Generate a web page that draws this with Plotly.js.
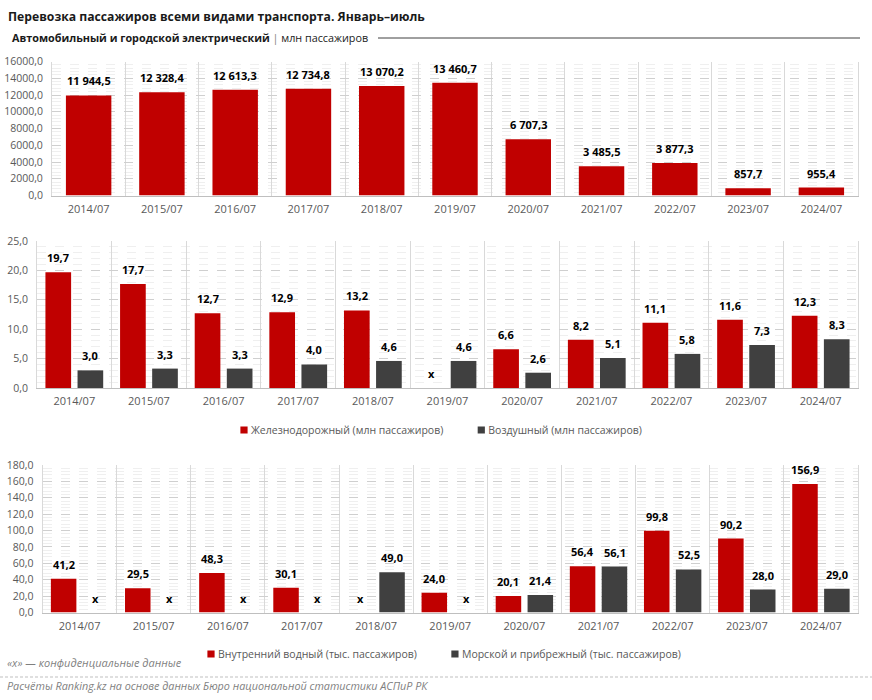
<!DOCTYPE html>
<html>
<head>
<meta charset="utf-8">
<script src="https://cdn.plot.ly/plotly-3.0.1.min.js"></script>
<style>
  html, body { margin: 0; padding: 0; background: #fff; }
  #chart { width: 872px; height: 700px; }
  .js-plotly-plot .plot .bars path { filter: drop-shadow(3px 1px 2px rgba(0,0,0,0.3)); }
  g.legendpoints path { transform: translate(33px, 0px) scale(0.6) !important; }
</style>
</head>
<body>
<div id="chart"></div>
<script>
const categories = ['2014/07','2015/07','2016/07','2017/07','2018/07','2019/07','2020/07','2021/07','2022/07','2023/07','2024/07'];
// млн пассажиров
const roadValues = [11944.5, 12328.4, 12613.3, 12734.8, 13070.2, 13460.7, 6707.3, 3485.5, 3877.3, 857.7, 955.4];
// млн пассажиров (null = «x», конфиденциальные данные)
const railValues = [19.7, 17.7, 12.7, 12.9, 13.2, null, 6.6, 8.2, 11.1, 11.6, 12.3];
const airValues = [3.0, 3.3, 3.3, 4.0, 4.6, 4.6, 2.6, 5.1, 5.8, 7.3, 8.3];
// тыс. пассажиров
const inlandWaterValues = [41.2, 29.5, 48.3, 30.1, null, 24.0, 20.1, 56.4, 99.8, 90.2, 156.9];
const seaValues = [null, null, null, null, 49.0, null, 21.4, 56.1, 52.5, 28.0, 29.0];

const seriesNames = {
  rail: 'Железнодорожный (млн пассажиров)',
  air: 'Воздушный (млн пассажиров)',
  inland: 'Внутренний водный (тыс. пассажиров)',
  sea: 'Морской и прибрежный (тыс. пассажиров)'
};

const RED = '#c00000', DARK = '#404040';
const FONT = 'Open Sans, Noto Sans, sans-serif';
const W = 872, H = 700;
const px = v => v / W, py = v => 1 - v / H;

function fmt(v) {
  const [i, d] = v.toFixed(1).split('.');
  return i.replace(/\B(?=(\d{3})+(?!\d))/g, ' ') + ',' + d;
}

const traces = [
  { type: 'bar', x: categories, y: roadValues, xaxis: 'x', yaxis: 'y', marker: { color: RED }, width: 0.62, showlegend: false, hoverinfo: 'x+y' },
  { type: 'bar', name: seriesNames.rail, x: categories, y: railValues, xaxis: 'x2', yaxis: 'y2', marker: { color: RED }, legend: 'legend2' },
  { type: 'bar', name: seriesNames.air, x: categories, y: airValues, xaxis: 'x2', yaxis: 'y2', marker: { color: DARK }, legend: 'legend2' },
  { type: 'bar', name: seriesNames.inland, x: categories, y: inlandWaterValues, xaxis: 'x3', yaxis: 'y3', marker: { color: RED }, legend: 'legend3' },
  { type: 'bar', name: seriesNames.sea, x: categories, y: seaValues, xaxis: 'x3', yaxis: 'y3', marker: { color: DARK }, legend: 'legend3' }
];

const labelFont = { family: FONT, size: 11, color: '#000' };
const annotations = [];
function addLabels(values, xref, yref, xshift) {
  values.forEach((v, i) => {
    annotations.push({
      x: categories[i], y: v === null ? 0 : v, xref, yref,
      text: '<b>' + (v === null ? 'x' : fmt(v)) + '</b>',
      showarrow: false, xanchor: 'center', yanchor: 'bottom',
      xshift, yshift: 5, font: labelFont
    });
  });
}
addLabels(roadValues, 'x', 'y', 0);
addLabels(railValues, 'x2', 'y2', -16);
addLabels(airValues, 'x2', 'y2', 16);
addLabels(inlandWaterValues, 'x3', 'y3', -16);
addLabels(seaValues, 'x3', 'y3', 16);

annotations.push({
  xref: 'paper', yref: 'paper', x: px(10), y: py(38), xanchor: 'left', yanchor: 'middle',
  showarrow: false, align: 'left',
  text: '<b>Автомобильный и городской электрический</b> <span style="color:#808080">|</span> млн пассажиров',
  font: { family: FONT, size: 10.8, color: '#1a1a1a' }
});
annotations.push({
  xref: 'paper', yref: 'paper', x: px(5), y: py(662), xanchor: 'left', yanchor: 'middle',
  showarrow: false, text: '<i>«x» — конфиденциальные данные</i>',
  font: { family: FONT, size: 11, color: '#7f7f7f' }
});
annotations.push({
  xref: 'paper', yref: 'paper', x: px(5), y: py(685), xanchor: 'left', yanchor: 'middle',
  showarrow: false, text: '<i>Расчёты Ranking.kz на основе данных Бюро национальной статистики АСПиР РК</i>',
  font: { family: FONT, size: 10.8, color: '#7f7f7f' }
});

const tickFont = { family: FONT, size: 11, color: '#595959' };
function xAxis(left, anchor) {
  return {
    domain: [px(left), px(858)], anchor, type: 'category', tickson: 'boundaries',
    showgrid: true, gridcolor: '#d9d9d9', gridwidth: 1, ticks: '',
    showline: true, linecolor: '#bfbfbf', linewidth: 1, ticklabelstandoff: 3,
    tickfont: tickFont, fixedrange: true
  };
}
function yAxis(top, bottom, anchor, range, dtick, minorDtick) {
  return {
    domain: [py(bottom), py(top)], anchor, range, dtick, tick0: 0,
    tickformat: '.1f', showgrid: true, gridcolor: '#cfcfcf', griddash: 'dash', gridwidth: 1,
    minor: { dtick: minorDtick, tick0: 0, showgrid: true, gridcolor: '#efefef', gridwidth: 1 },
    zeroline: false, showline: true, mirror: true, linecolor: '#d9d9d9', linewidth: 1,
    ticks: '', ticklabelstandoff: 6, tickfont: { family: FONT, size: 10.5, color: '#595959' }, fixedrange: true
  };
}

const legendBase = {
  orientation: 'h', xanchor: 'left', yanchor: 'middle', xref: 'paper', yref: 'paper',
  font: { family: FONT, size: 10.5, color: '#595959' }, itemwidth: 30,
  bgcolor: 'rgba(0,0,0,0)', tracegroupgap: 0
};

const layout = {
  width: W, height: H,
  margin: { l: 0, r: 0, t: 0, b: 0 },
  paper_bgcolor: '#fff', plot_bgcolor: '#fff',
  separators: ', ',
  font: { family: FONT },
  title: {
    text: '<b>Перевозка пассажиров всеми видами транспорта. Январь–июль</b>',
    x: px(8), xanchor: 'left', xref: 'paper', y: py(17), yanchor: 'middle', yref: 'paper',
    font: { family: FONT, size: 12.2, color: '#1a1a1a' }
  },
  barmode: 'group', bargap: 0.14, bargroupgap: 0.2,
  xaxis: xAxis(52, 'y'),
  yaxis: yAxis(61.5, 195.5, 'x', [0, 16000], 2000, 400),
  xaxis2: xAxis(37, 'y2'),
  yaxis2: yAxis(241, 388, 'x2', [0, 25], 5, 1),
  xaxis3: xAxis(42.5, 'y3'),
  yaxis3: yAxis(465, 612.5, 'x3', [0, 180], 20, 4),
  showlegend: true,
  legend2: Object.assign({}, legendBase, { x: px(211), y: py(430) }),
  legend3: Object.assign({}, legendBase, { x: px(178), y: py(654) }),
  annotations,
  shapes: [
    { type: 'line', xref: 'paper', yref: 'paper', x0: px(378), x1: px(860), y0: py(38), y1: py(38), line: { color: '#404040', width: 1 } },
    { type: 'line', xref: 'paper', yref: 'paper', x0: 0, x1: 1, y0: py(677), y1: py(677), line: { color: '#bfbfbf', width: 1, dash: '3px,2px' } }
  ]
};

Plotly.newPlot('chart', traces, layout, { displayModeBar: false, staticPlot: true });
</script>
</body>
</html>
